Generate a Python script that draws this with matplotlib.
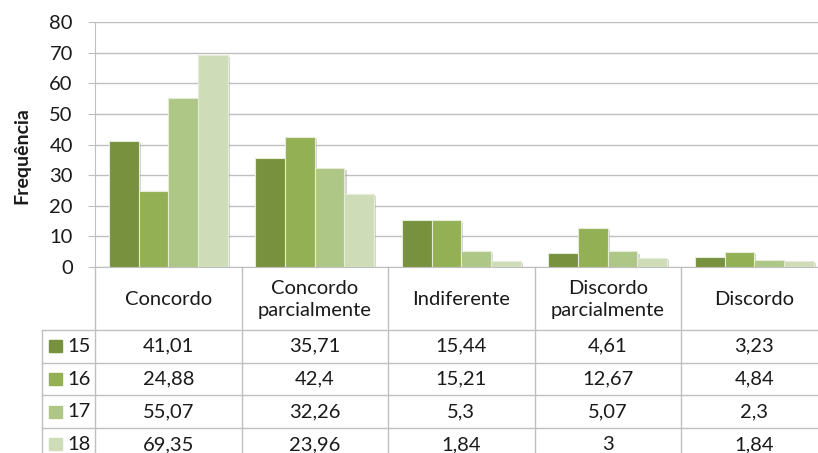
import matplotlib
matplotlib.use("Agg")
from matplotlib import pyplot as plt
from matplotlib import patheffects as pe
import numpy as np

# data
categorias = ["Concordo", "Concordo\nparcialmente", "Indiferente",
              "Discordo\nparcialmente", "Discordo"]
series = ["15", "16", "17", "18"]
v15 = [41.01, 35.71, 15.44, 4.61, 3.23]
v16 = [24.88, 42.4, 15.21, 12.67, 4.84]
v17 = [55.07, 32.26, 5.3, 5.07, 2.3]
v18 = [69.35, 23.96, 1.84, 3, 1.84]
valores = [v15, v16, v17, v18]
cores = ["#77913F", "#94B055", "#AEC787", "#CEDDB7"]

plt.rcParams["font.family"] = ["Lato", "DejaVu Sans"]
txt = "#1a1a1a"
linha = "#BFBFBF"
fs = 14.5

W, H = 818, 453
fig = plt.figure(figsize=(W / 100, H / 100), dpi=100)

# pixel layout
x0, x1 = 95, 827.5
ytop, ybot = 22, 267
ax = fig.add_axes([x0 / W, 1 - ybot / H, (x1 - x0) / W, (ybot - ytop) / H])

n = len(categorias)
x = np.arange(n)
larg = 0.203
for k, (vals, cor) in enumerate(zip(valores, cores)):
    ax.bar(x + (k - 1.5) * larg, vals, larg, color=cor, edgecolor="#E4ECD8",
           linewidth=0.8, zorder=3,
           path_effects=[pe.SimplePatchShadow(offset=(1.5, -1.5), shadow_rgbFace="#888888", alpha=0.35),
                         pe.Normal()])

ax.set_xlim(-0.5, n - 0.5)
ax.set_ylim(0, 80)
ax.set_yticks(range(0, 81, 10))
ax.yaxis.grid(True, color=linha, linewidth=1, zorder=0)
ax.set_xticks([])
for s in ["top", "right"]:
    ax.spines[s].set_visible(False)
ax.spines["left"].set_color(linha)
ax.spines["bottom"].set_color(linha)
ax.tick_params(axis="y", direction="out", length=5, color=linha, labelsize=fs,
               labelcolor=txt, pad=11)
ax.set_ylabel("Frequência", fontsize=fs - 0.5, fontweight="bold", color=txt)
ax.yaxis.set_label_coords(-(x0 - 30) / (x1 - x0), (ybot - 156) / (ybot - ytop))

# data table below
row0, rowh = 267, 32.7
cab = 330 - row0
tb = fig.add_axes([x0 / W, 1 - 470 / H, (x1 - x0) / W, (470 - row0) / H])
tb.set_xlim(-0.5, n - 0.5)
tb.set_ylim(470 - row0, 0)
tb.axis("off")
ppx = (x1 - x0) / n  # pixels per category
xl = -0.5 - (x0 - 42) / ppx

for i in range(n + 1):
    tb.plot([i - 0.5, i - 0.5], [0, 300], color=linha, lw=1, clip_on=False)
tb.plot([xl, xl], [cab, 300], color=linha, lw=1, clip_on=False)
for r in range(len(series) + 1):
    yy = cab + r * rowh
    tb.plot([xl, n], [yy, yy], color=linha, lw=1, clip_on=False)

for i, c in enumerate(categorias):
    tb.text(i, cab / 2 + 1, c, ha="center", va="center", fontsize=fs, color=txt,
            linespacing=1.3)

for r, (nome, vals, cor) in enumerate(zip(series, valores, cores)):
    yc = cab + (r + 0.5) * rowh
    tb.add_patch(plt.Rectangle((-0.5 - (x0 - 49) / ppx, yc - 6), 13 / ppx, 12,
                               color=cor, clip_on=False))
    tb.text(-0.5 - (x0 - 67) / ppx, yc, nome, ha="left", va="center",
            fontsize=fs, color=txt)
    for i, v in enumerate(vals):
        tb.text(i, yc, f"{v:g}".replace(".", ","), ha="center", va="center",
                fontsize=fs, color=txt)

fig.savefig("out.png", dpi=100)
